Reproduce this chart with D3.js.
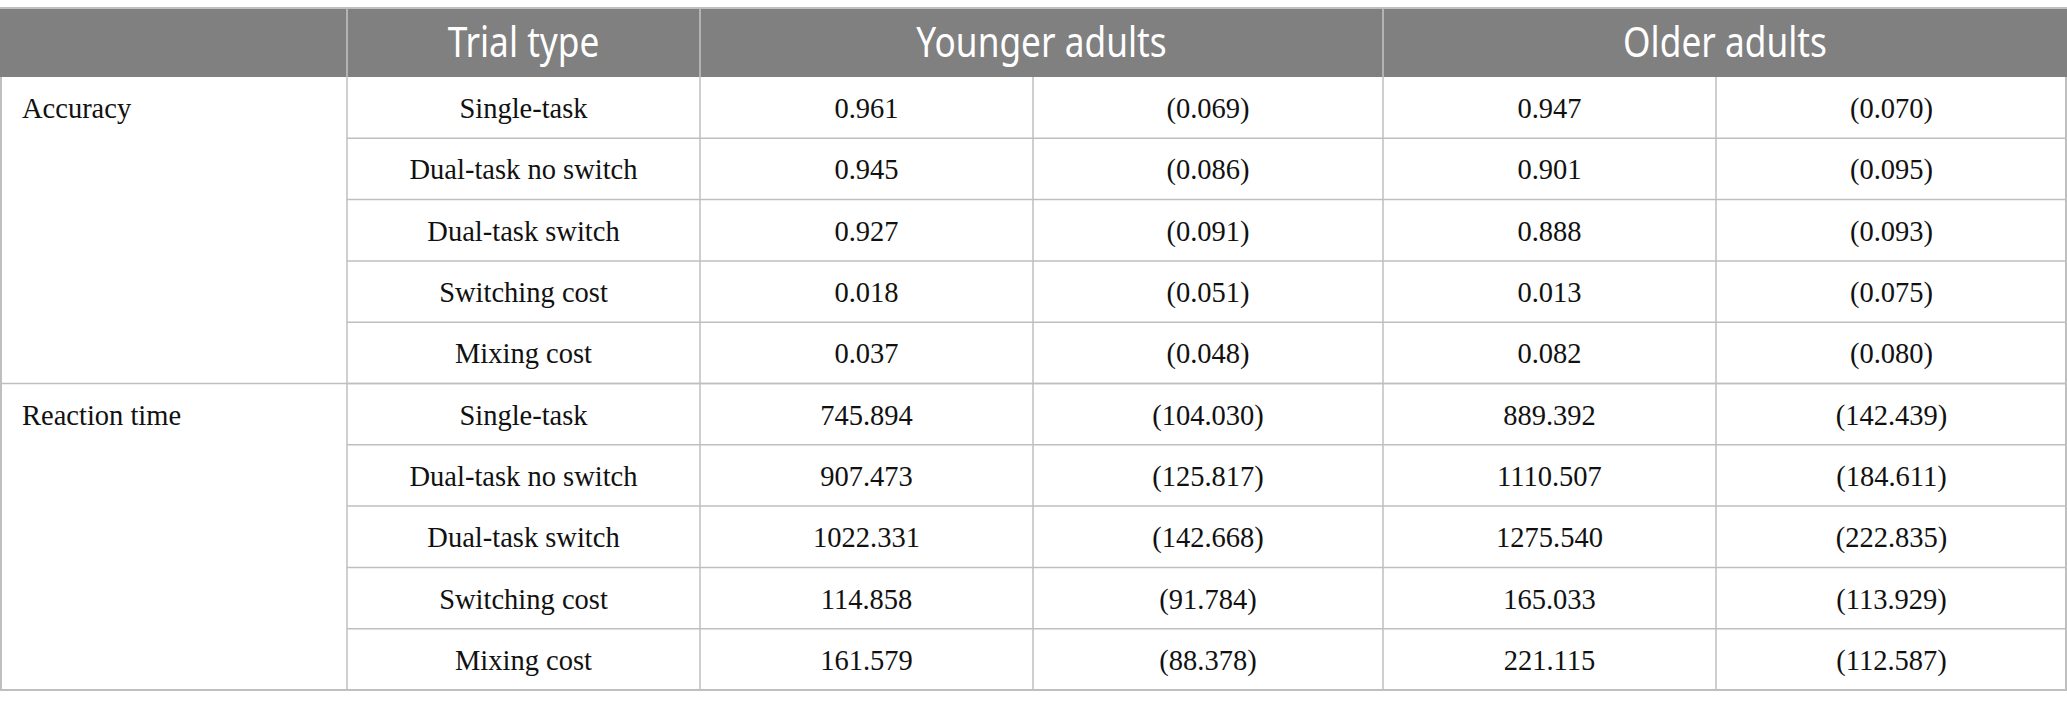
<!DOCTYPE html>
<html>
<head>
<meta charset="utf-8">
<script src="https://cdn.jsdelivr.net/npm/d3@7"></script>
<style>
  html, body { margin: 0; padding: 0; background: #fff; }
  svg { display: block; }
</style>
</head>
<body>
<svg id="table" width="2067" height="706"></svg>
<script>
// table content
const headers = ['', 'Trial type', 'Younger adults', 'Older adults'];
const measures = ['Accuracy', 'Reaction time'];
const trialTypes = ['Single-task', 'Dual-task no switch', 'Dual-task switch', 'Switching cost', 'Mixing cost'];

const accYoungMean = [0.961, 0.945, 0.927, 0.018, 0.037];
const accYoungSD = [0.069, 0.086, 0.091, 0.051, 0.048];
const accOldMean = [0.947, 0.901, 0.888, 0.013, 0.082];
const accOldSD = [0.070, 0.095, 0.093, 0.075, 0.080];

const rtYoungMean = [745.894, 907.473, 1022.331, 114.858, 161.579];
const rtYoungSD = [104.030, 125.817, 142.668, 91.784, 88.378];
const rtOldMean = [889.392, 1110.507, 1275.540, 165.033, 221.115];
const rtOldSD = [142.439, 184.611, 222.835, 113.929, 112.587];

// layout
const W = 2067;
const TOP = 8;
const HEAD_BOTTOM = 77;
const BOTTOM = 690;
const colEdges = [0, 347, 700, 1033, 1383, 1716, W];
const LINE = '#bfbfbf';
const HEAD_FILL = '#808080';
const BODY_FONT = '"Liberation Serif", "DejaVu Serif", serif';
const BODY_SIZE = '28.5px';
const fmt = d3.format('.3f');

const svg = d3.select('svg#table');

// one record per body row
const rows = [];
measures.forEach((m, g) => {
  const ym = g === 0 ? accYoungMean : rtYoungMean;
  const ys = g === 0 ? accYoungSD : rtYoungSD;
  const om = g === 0 ? accOldMean : rtOldMean;
  const os = g === 0 ? accOldSD : rtOldSD;
  trialTypes.forEach((t, i) => {
    rows.push({
      key: g * trialTypes.length + i,
      group: g,
      first: i === 0,
      label: m,
      cells: [t, fmt(ym[i]), `(${fmt(ys[i])})`, fmt(om[i]), `(${fmt(os[i])})`]
    });
  });
});

const y = d3.scaleBand()
  .domain(rows.map((r) => r.key))
  .range([HEAD_BOTTOM, BOTTOM]);

// header band
svg.append('rect')
  .attr('x', 0)
  .attr('y', TOP)
  .attr('width', W)
  .attr('height', HEAD_BOTTOM - TOP)
  .attr('fill', HEAD_FILL);

// header cells: label column, trial type, two spanning group headers
const headSpans = [[0, 1], [1, 2], [2, 4], [4, 6]];
const headCells = headers.map((h, i) => ({
  text: h,
  x0: colEdges[headSpans[i][0]],
  x1: colEdges[headSpans[i][1]]
}));

svg.selectAll('line.head-div')
  .data(headCells.slice(1))
  .enter()
  .append('line')
  .attr('class', 'head-div')
  .attr('x1', (d) => d.x0)
  .attr('x2', (d) => d.x0)
  .attr('y1', TOP)
  .attr('y2', HEAD_BOTTOM)
  .attr('stroke', '#c4c4c4')
  .attr('stroke-width', 1.5);

svg.selectAll('g.head-text')
  .data(headCells.filter((d) => d.text))
  .enter()
  .append('g')
  .attr('class', 'head-text')
  .attr('transform', (d) => `translate(${(d.x0 + d.x1) / 2},${(TOP + HEAD_BOTTOM) / 2}) scale(0.86,1)`)
  .append('text')
  .attr('text-anchor', 'middle')
  .attr('dy', '0.35em')
  .attr('font-family', '"Noto Sans", "Open Sans", sans-serif')
  .attr('font-size', '41px')
  .attr('fill', '#ffffff')
  .text((d) => d.text);

// horizontal rules between body rows (label column stays open inside a group)
svg.selectAll('line.row-rule')
  .data(rows)
  .enter()
  .append('line')
  .attr('class', 'row-rule')
  .attr('x1', colEdges[1])
  .attr('x2', W)
  .attr('y1', (d) => y(d.key) + y.bandwidth())
  .attr('y2', (d) => y(d.key) + y.bandwidth())
  .attr('stroke', LINE)
  .attr('stroke-width', 1.5);

// separator at the top of each later group spans the label column too
svg.selectAll('line.group-rule')
  .data(rows.filter((r) => r.first && r.group > 0))
  .enter()
  .append('line')
  .attr('class', 'group-rule')
  .attr('x1', 0)
  .attr('x2', W)
  .attr('y1', (d) => y(d.key))
  .attr('y2', (d) => y(d.key))
  .attr('stroke', LINE)
  .attr('stroke-width', 1.5);

// vertical rules in body
svg.selectAll('line.col-rule')
  .data(colEdges.slice(1, -1))
  .enter()
  .append('line')
  .attr('class', 'col-rule')
  .attr('x1', (d) => d)
  .attr('x2', (d) => d)
  .attr('y1', HEAD_BOTTOM)
  .attr('y2', BOTTOM)
  .attr('stroke', LINE)
  .attr('stroke-width', 1.5);

// outer border
svg.append('line')
  .attr('x1', 0).attr('x2', W)
  .attr('y1', TOP).attr('y2', TOP)
  .attr('stroke', LINE).attr('stroke-width', 2);
svg.append('line')
  .attr('x1', 0).attr('x2', W)
  .attr('y1', BOTTOM).attr('y2', BOTTOM)
  .attr('stroke', LINE).attr('stroke-width', 2);
svg.append('line')
  .attr('x1', 1).attr('x2', 1)
  .attr('y1', HEAD_BOTTOM).attr('y2', BOTTOM)
  .attr('stroke', LINE).attr('stroke-width', 2);
svg.append('line')
  .attr('x1', W - 1).attr('x2', W - 1)
  .attr('y1', HEAD_BOTTOM).attr('y2', BOTTOM)
  .attr('stroke', LINE).attr('stroke-width', 2);

// group labels, left aligned in the first row of each group
svg.selectAll('text.group-label')
  .data(rows.filter((r) => r.first))
  .enter()
  .append('text')
  .attr('class', 'group-label')
  .attr('x', 22)
  .attr('y', (d) => y(d.key) + y.bandwidth() / 2)
  .attr('dy', '0.37em')
  .attr('font-family', BODY_FONT)
  .attr('font-size', BODY_SIZE)
  .attr('fill', '#111111')
  .text((d) => d.label);

// body cells, centred in their columns
const rowG = svg.selectAll('g.row')
  .data(rows)
  .enter()
  .append('g')
  .attr('class', 'row')
  .attr('transform', (d) => `translate(0,${y(d.key) + y.bandwidth() / 2})`);

rowG.selectAll('text')
  .data((d) => d.cells)
  .enter()
  .append('text')
  .attr('x', (d, i) => (colEdges[i + 1] + colEdges[i + 2]) / 2)
  .attr('dy', '0.37em')
  .attr('text-anchor', 'middle')
  .attr('font-family', BODY_FONT)
  .attr('font-size', BODY_SIZE)
  .attr('fill', '#111111')
  .text((d) => d);
</script>
</body>
</html>
